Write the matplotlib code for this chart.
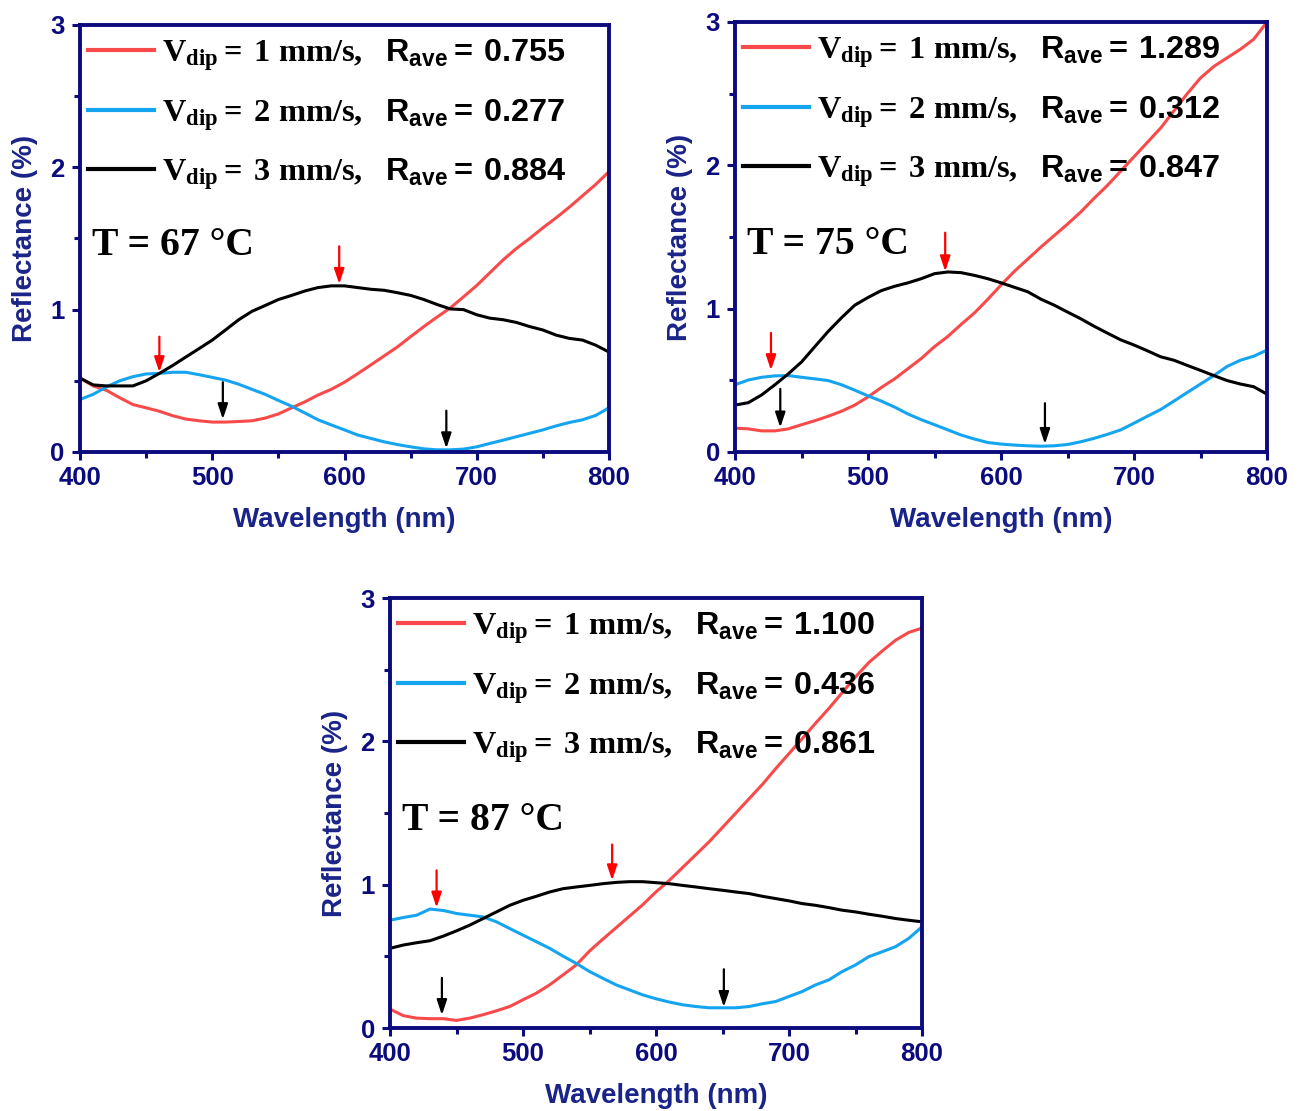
import numpy as np
import matplotlib
matplotlib.use("Agg")
import matplotlib.pyplot as plt
from matplotlib.ticker import MultipleLocator

plt.rcParams["mathtext.fontset"] = "custom"
plt.rcParams["mathtext.rm"] = "Liberation Serif:bold"
plt.rcParams["mathtext.sf"] = "Liberation Sans:bold"
plt.rcParams["mathtext.it"] = "Liberation Serif:bold"
plt.rcParams["mathtext.bf"] = "Liberation Serif:bold"

wl = [400, 410, 420, 430, 440, 450, 460, 470, 480, 490, 500,
      510, 520, 530, 540, 550, 560, 570, 580, 590, 600,
      610, 620, 630, 640, 650, 660, 670, 680, 690, 700,
      710, 720, 730, 740, 750, 760, 770, 780, 790, 800]

# T = 67 C
r67_v1 = [0.519, 0.464, 0.433, 0.381, 0.333, 0.31, 0.286, 0.255, 0.231, 0.219, 0.21,
          0.21, 0.214, 0.219, 0.238, 0.267, 0.31, 0.352, 0.40, 0.44, 0.49,
          0.55, 0.612, 0.675, 0.738, 0.81, 0.881, 0.948, 1.012, 1.09, 1.17,
          1.26, 1.35, 1.43, 1.50, 1.575, 1.645, 1.72, 1.80, 1.88, 1.97]
r67_v2 = [0.369, 0.405, 0.457, 0.50, 0.529, 0.548, 0.552, 0.56, 0.56, 0.543, 0.524,
          0.505, 0.476, 0.44, 0.405, 0.362, 0.321, 0.274, 0.226, 0.19, 0.155,
          0.119, 0.095, 0.071, 0.052, 0.036, 0.022, 0.015, 0.015, 0.02, 0.036,
          0.06, 0.083, 0.107, 0.131, 0.155, 0.183, 0.207, 0.226, 0.257, 0.31]
r67_v3 = [0.519, 0.471, 0.464, 0.464, 0.464, 0.50, 0.552, 0.607, 0.667, 0.726, 0.786,
          0.857, 0.929, 0.988, 1.029, 1.071, 1.10, 1.131, 1.155, 1.167, 1.167,
          1.155, 1.143, 1.136, 1.119, 1.10, 1.071, 1.036, 1.005, 1.0, 0.964,
          0.94, 0.929, 0.91, 0.881, 0.857, 0.821, 0.798, 0.786, 0.75, 0.702]

# T = 75 C
r75_v1 = [0.166, 0.161, 0.147, 0.147, 0.161, 0.19, 0.218, 0.249, 0.284, 0.327, 0.384,
          0.45, 0.51, 0.581, 0.652, 0.735, 0.806, 0.89, 0.97, 1.065, 1.165,
          1.26, 1.345, 1.43, 1.51, 1.59, 1.675, 1.77, 1.86, 1.96, 2.06,
          2.16, 2.26, 2.38, 2.50, 2.61, 2.69, 2.75, 2.81, 2.88, 3.0]
r75_v2 = [0.469, 0.502, 0.521, 0.531, 0.533, 0.521, 0.51, 0.498, 0.469, 0.431, 0.391,
          0.355, 0.313, 0.265, 0.225, 0.19, 0.154, 0.118, 0.09, 0.066, 0.055,
          0.048, 0.043, 0.04, 0.043, 0.052, 0.071, 0.095, 0.123, 0.154, 0.201,
          0.249, 0.296, 0.355, 0.415, 0.474, 0.533, 0.597, 0.64, 0.668, 0.711]
r75_v3 = [0.327, 0.344, 0.398, 0.469, 0.545, 0.628, 0.735, 0.841, 0.936, 1.024, 1.078,
          1.126, 1.156, 1.18, 1.209, 1.244, 1.256, 1.251, 1.232, 1.209, 1.18,
          1.149, 1.118, 1.066, 1.024, 0.976, 0.929, 0.877, 0.829, 0.782, 0.746,
          0.706, 0.664, 0.64, 0.604, 0.569, 0.533, 0.498, 0.474, 0.455, 0.403]

# T = 87 C
r87_v1 = [0.132, 0.086, 0.069, 0.065, 0.065, 0.053, 0.069, 0.093, 0.12, 0.15, 0.197,
          0.243, 0.301, 0.37, 0.44, 0.537, 0.62, 0.70, 0.78, 0.86, 0.95,
          1.03, 1.12, 1.21, 1.30, 1.40, 1.50, 1.60, 1.70, 1.81, 1.915,
          2.02, 2.127, 2.23, 2.34, 2.45, 2.55, 2.63, 2.705, 2.76, 2.79]
r87_v2 = [0.752, 0.771, 0.787, 0.83, 0.82, 0.799, 0.787, 0.775, 0.741, 0.694, 0.648,
          0.602, 0.556, 0.502, 0.451, 0.394, 0.347, 0.301, 0.266, 0.231, 0.204,
          0.181, 0.162, 0.15, 0.141, 0.141, 0.141, 0.15, 0.169, 0.185, 0.22,
          0.255, 0.301, 0.336, 0.394, 0.44, 0.498, 0.532, 0.567, 0.625, 0.706]
r87_v3 = [0.556, 0.579, 0.595, 0.609, 0.641, 0.678, 0.718, 0.764, 0.81, 0.856, 0.891,
          0.919, 0.949, 0.972, 0.984, 0.995, 1.007, 1.016, 1.021, 1.021, 1.014,
          1.007, 0.995, 0.984, 0.972, 0.961, 0.949, 0.938, 0.919, 0.903, 0.887,
          0.868, 0.856, 0.84, 0.822, 0.81, 0.794, 0.78, 0.764, 0.752, 0.741]

temps = ["67", "75", "87"]
speeds = ["1", "2", "3"]
r_ave = [["0.755", "0.277", "0.884"],
         ["1.289", "0.312", "0.847"],
         ["1.100", "0.436", "0.861"]]
curves = [[r67_v1, r67_v2, r67_v3],
          [r75_v1, r75_v2, r75_v3],
          [r87_v1, r87_v2, r87_v3]]

# arrows: (x, y_start, y_tip, colour key)
arrows = [
    [(460, 0.81, 0.56, "r"), (596, 1.445, 1.18, "r"), (508, 0.49, 0.23, "k"), (677, 0.29, 0.025, "k")],
    [(427, 0.83, 0.57, "r"), (558, 1.53, 1.26, "r"), (434, 0.44, 0.17, "k"), (633, 0.34, 0.055, "k")],
    [(435, 1.10, 0.84, "r"), (567, 1.28, 1.03, "r"), (439, 0.35, 0.09, "k"), (651, 0.41, 0.146, "k")],
]

line_colors = ["#f84a4a", "#14a4f0", "black"]
navy = "#0b0b7e"
label_navy = "#1a2488"

fig = plt.figure(figsize=(13.01, 11.11), dpi=100)
rects = [[0.0615, 0.5932, 0.4066, 0.3843],
         [0.5650, 0.5932, 0.4089, 0.3870],
         [0.2998, 0.0747, 0.4089, 0.3870]]

for k, rect in enumerate(rects):
    ax = fig.add_axes(rect)
    handles = []
    for j in range(3):
        h, = ax.plot(wl, curves[k][j], color=line_colors[j], lw=2.2)
        handles.append(h)
    ax.set_xlim(400, 800)
    ax.set_ylim(0, 3)
    ax.xaxis.set_major_locator(MultipleLocator(100))
    ax.xaxis.set_minor_locator(MultipleLocator(50))
    ax.yaxis.set_major_locator(MultipleLocator(1))
    ax.yaxis.set_minor_locator(MultipleLocator(0.5))
    for s in ax.spines.values():
        s.set_color(navy)
        s.set_linewidth(2.8)
    ax.tick_params(which="major", direction="out", length=6, width=2.2, color=navy,
                   labelcolor=navy, labelsize=18.5)
    ax.tick_params(which="minor", direction="out", length=4, width=2.2, color=navy)
    ax.tick_params(axis="x", which="major", pad=4)
    ax.tick_params(axis="y", which="major", pad=5)
    for t in ax.get_xticklabels() + ax.get_yticklabels():
        t.set_fontweight("bold")
        t.set_fontfamily("Liberation Sans")
    ax.set_xlabel("Wavelength (nm)", fontsize=20, fontweight="bold", color=label_navy,
                  family="Liberation Sans", labelpad=12)
    ax.set_ylabel("Reflectance (%)", fontsize=20, fontweight="bold", color=label_navy,
                  family="Liberation Sans", labelpad=9)

    labels = [r"$\mathrm{V_{dip}{=}\:" + speeds[j] + r"\ mm/s,}\ \ \mathsf{R_{ave}{=}\:"
              + r_ave[k][j] + "}$" for j in range(3)]
    leg = ax.legend(handles, labels, loc="upper left", bbox_to_anchor=(0.0, 0.99),
                    frameon=False, fontsize=23.3, handlelength=2.05, handletextpad=0.22,
                    labelspacing=0.74, borderpad=0.0, borderaxespad=0.25)
    for lh in leg.get_lines():
        lh.set_linewidth(3)

    ax.text(0.022, 0.461, "T = " + temps[k] + " \u00b0C", transform=ax.transAxes,
            fontsize=28.5, fontweight="bold", family="Liberation Serif", va="baseline")

    for (x, y0, y1, c) in arrows[k]:
        col = "red" if c == "r" else "black"
        ax.annotate("", xy=(x, y1), xytext=(x, y0),
                    arrowprops=dict(arrowstyle="-|>,head_length=0.6,head_width=0.2",
                                    color=col, lw=1.6, mutation_scale=15,
                                    shrinkA=0, shrinkB=0))

fig.savefig("out.png", dpi=100)
